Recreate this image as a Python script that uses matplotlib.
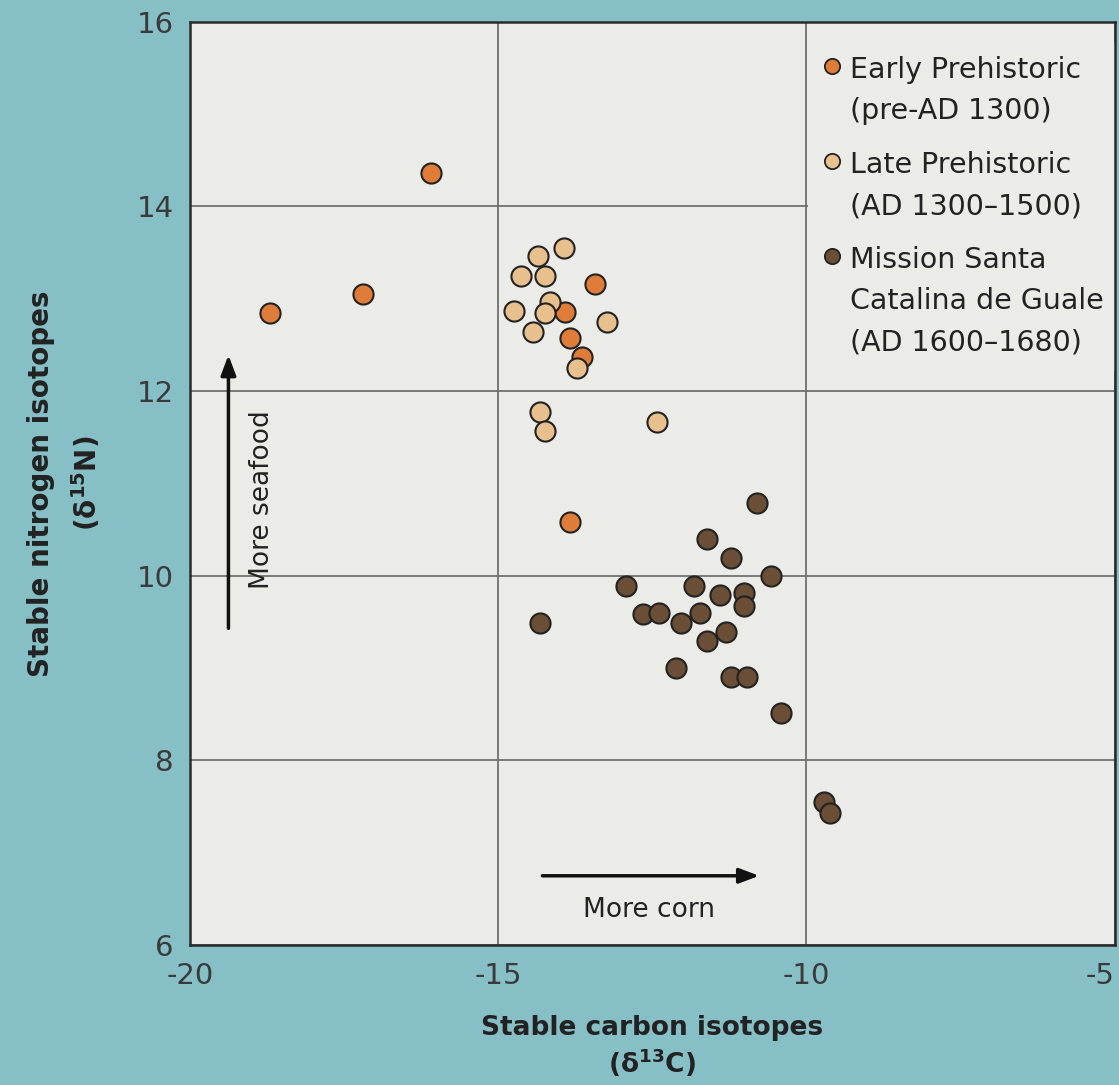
import matplotlib.pyplot as plt
from matplotlib.lines import Line2D

plt.rcParams["axes.unicode_minus"] = False

# values (delta13C, delta15N)
early_x = [-18.70, -17.19, -16.09, -13.43, -13.91, -13.83, -13.64, -13.83]
early_y = [12.84, 13.05, 14.36, 13.16, 12.86, 12.57, 12.37, 10.58]

late_x = [-13.93, -14.35, -14.64, -14.24, -14.74, -14.16, -14.25, -13.23,
          -14.43, -13.73, -14.33, -14.24, -12.42]
late_y = [13.55, 13.46, 13.25, 13.25, 12.87, 12.96, 12.84, 12.75,
          12.64, 12.25, 11.77, 11.57, 11.66]

mission_x = [-10.81, -11.62, -11.22, -10.58, -12.92, -11.83, -11.41, -11.02,
             -11.01, -12.65, -12.39, -11.72, -12.03, -14.33, -11.31, -11.61,
             -12.11, -11.23, -10.97, -10.41, -9.72, -9.61]
mission_y = [10.79, 10.40, 10.19, 10.00, 9.89, 9.89, 9.79, 9.81,
             9.67, 9.59, 9.60, 9.60, 9.49, 9.49, 9.39, 9.29,
             9.00, 8.90, 8.90, 8.51, 7.55, 7.43]

labels = ["Early Prehistoric\n(pre-AD 1300)",
          "Late Prehistoric\n(AD 1300\u20131500)",
          "Mission Santa\nCatalina de Guale\n(AD 1600\u20131680)"]
colors = ["#e07c3a", "#e8c08e", "#6a4e35"]

xticks = [-20, -15, -10, -5]
yticks = [6, 8, 10, 12, 14, 16]

fig_bg = "#86bfc6"
ax_bg = "#ebebe8"

fig = plt.figure(figsize=(11.19, 10.85), dpi=100, facecolor=fig_bg)
ax = fig.add_axes([0.170, 0.129, 0.826, 0.851], facecolor=ax_bg)

ax.set_xlim(-20, -5)
ax.set_ylim(6, 16)
ax.set_xticks(xticks)
ax.set_yticks(yticks)
ax.tick_params(length=0, labelsize=21, labelcolor="#3a3a3a", pad=12)
ax.get_xticklabels()[-1].set_horizontalalignment("right")
ax.grid(True, color="#6f6f6f", lw=1.3)
ax.set_axisbelow(True)
for s in ax.spines.values():
    s.set_color("#2a2a2a")
    s.set_linewidth(1.8)
    s.set_zorder(5)

ms = 210
for xs, ys, c in [(early_x, early_y, colors[0]), (late_x, late_y, colors[1]),
                  (mission_x, mission_y, colors[2])]:
    ax.scatter(xs, ys, s=ms, c=c, edgecolors="#222222", linewidths=1.5, zorder=3)

# direction arrows
ax.annotate("", xy=(-19.38, 12.42), xytext=(-19.38, 9.40),
            arrowprops=dict(arrowstyle="-|>,head_length=1.2,head_width=0.45",
                            color="#111111", lw=2.5))
ax.text(-18.83, 10.82, "More seafood", rotation=90, ha="center", va="center",
        fontsize=19, color="#222222")
ax.annotate("", xy=(-10.72, 6.75), xytext=(-14.33, 6.75),
            arrowprops=dict(arrowstyle="-|>,head_length=1.2,head_width=0.45",
                            color="#111111", lw=2.5))
ax.text(-12.56, 6.38, "More corn", ha="center", va="center",
        fontsize=19, color="#222222")

ax.set_xlabel("Stable carbon isotopes\n($\\mathbf{\\delta^{13}}$C)", fontsize=19,
              fontweight="bold", color="#222222", labelpad=18)
ylab = ax.set_ylabel("Stable nitrogen isotopes\n($\\mathbf{\\delta^{15}}$N)", fontsize=20,
                     fontweight="bold", color="#222222", labelpad=24)
ylab.set_linespacing(1.55)

handles = [Line2D([], [], ls="none", marker="o", markersize=11, markerfacecolor=c,
                  markeredgecolor="#222222", markeredgewidth=1.3) for c in colors]
leg = ax.legend(handles, labels, loc="upper left", bbox_to_anchor=(-9.98, 12.1, 4.98, 3.68),
                bbox_transform=ax.transData, mode="expand", borderaxespad=0,
                fontsize=20.5, frameon=True, facecolor=ax_bg, edgecolor="none",
                framealpha=1, handletextpad=0.3, handlelength=0.7,
                labelspacing=0.9, borderpad=0.5, fancybox=False)
for t in leg.get_texts():
    t.set_linespacing(1.6)
    t.set_color("#222222")
# put each marker next to the first line of its label
for col in leg._legend_handle_box.get_children():
    for row in col.get_children():
        row.align = "top"
leg.set_zorder(4)

fig.savefig("out.png", dpi=100, facecolor=fig_bg)
